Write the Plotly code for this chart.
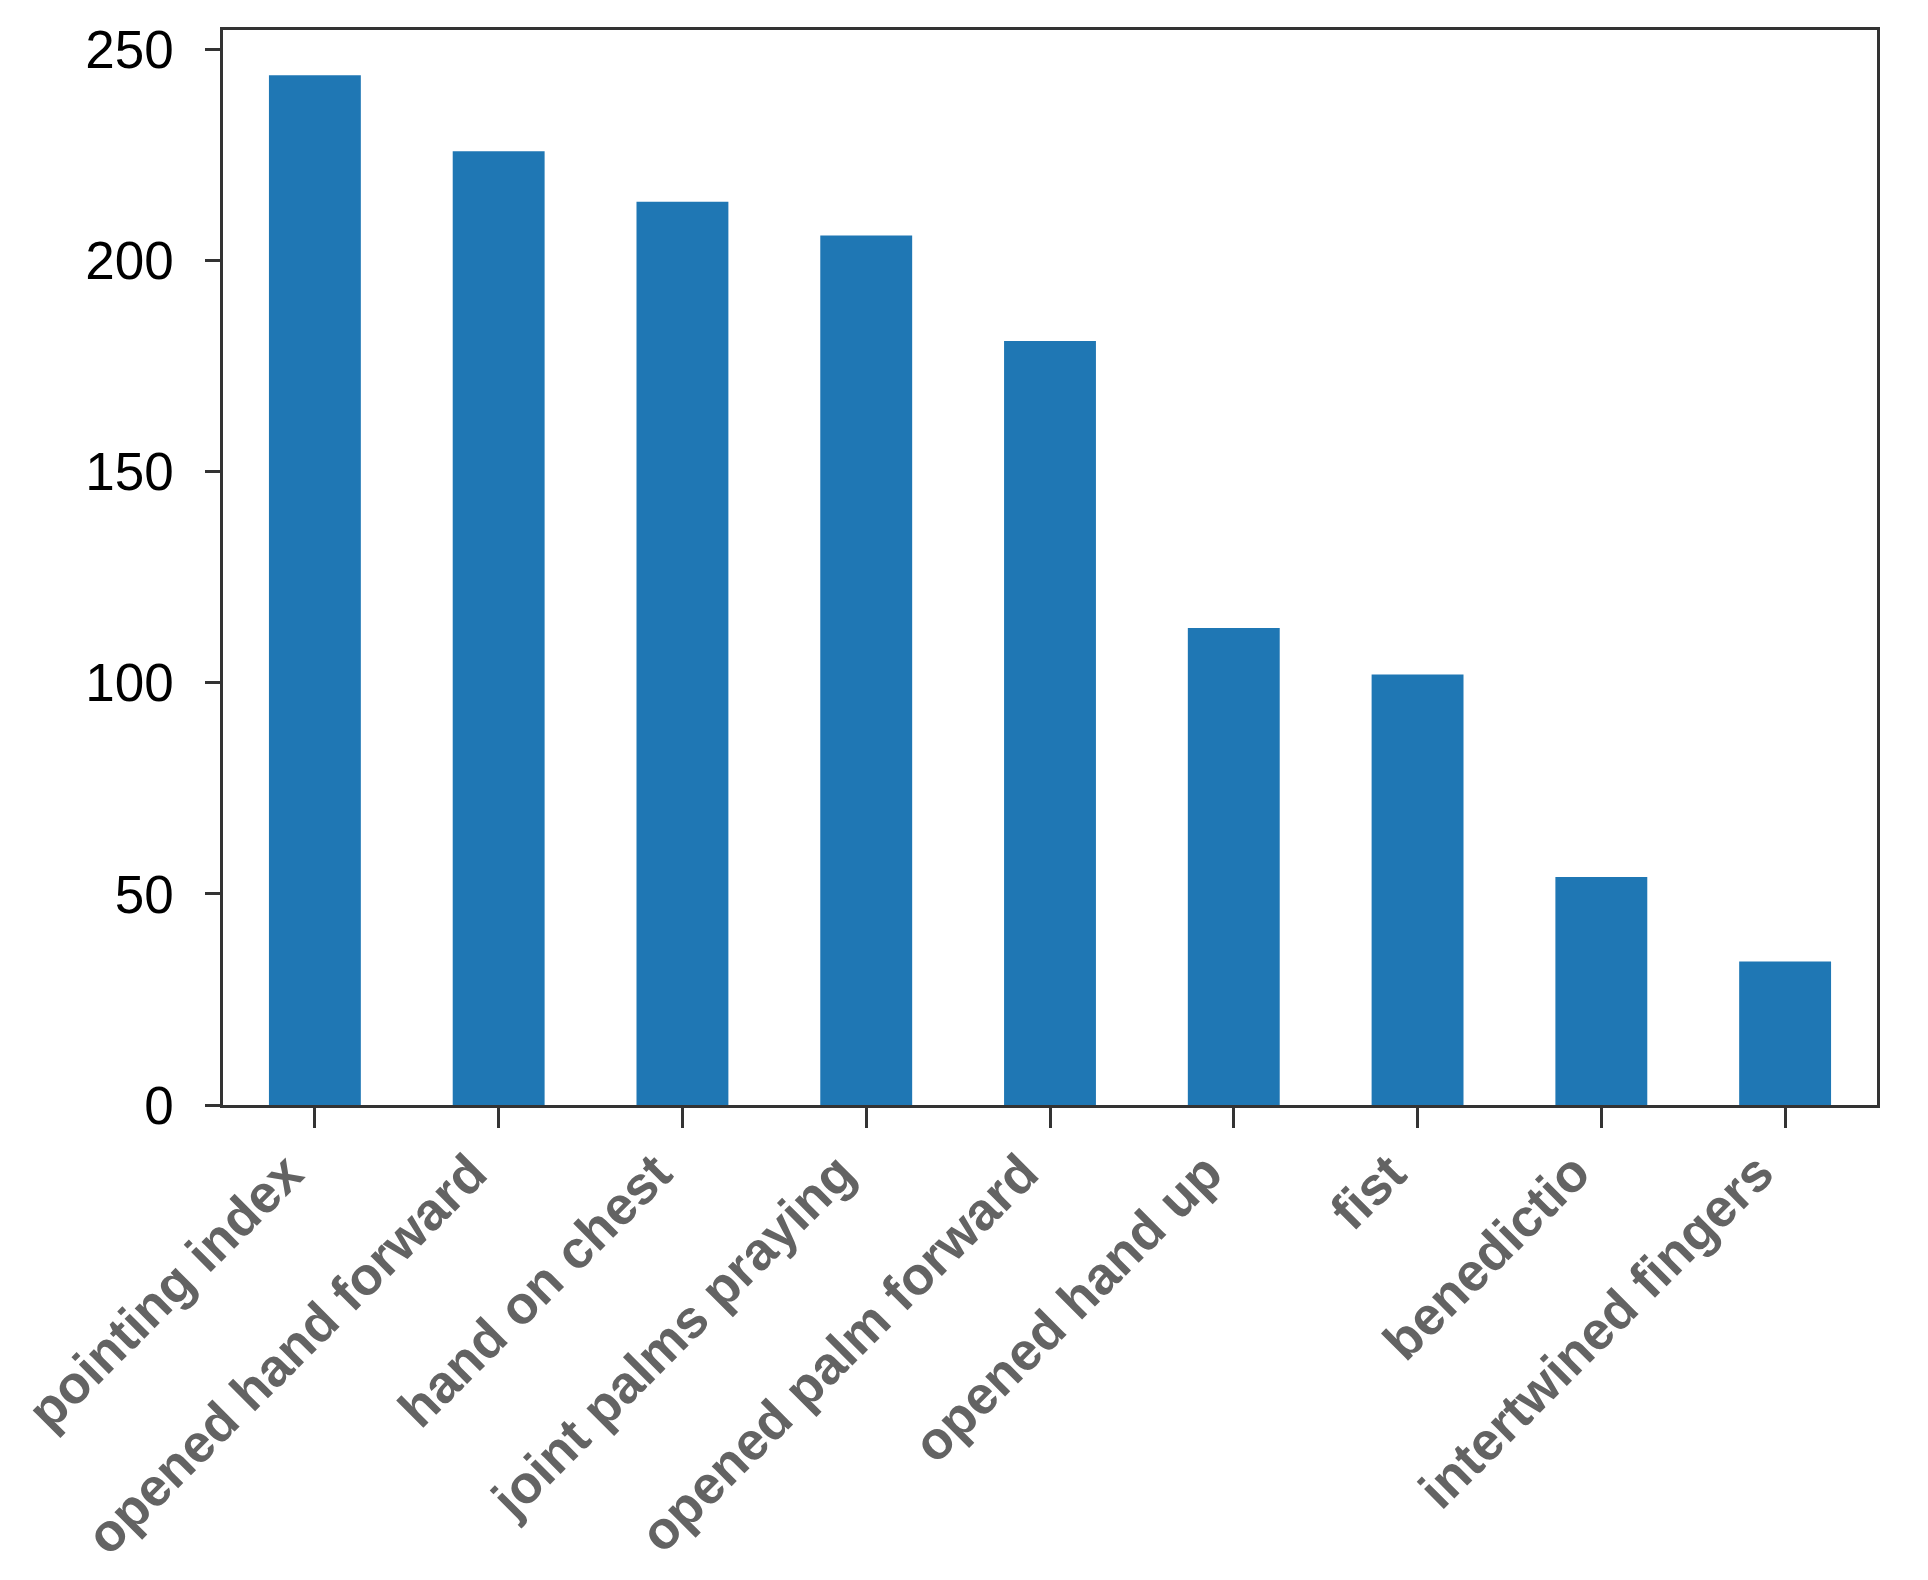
import plotly.graph_objects as go

categories = ["pointing index", "opened hand forward", "hand on chest",
              "joint palms praying", "opened palm forward", "opened hand up",
              "fist", "benedictio", "intertwined fingers"]
counts = [244, 226, 214, 206, 181, 113, 102, 54, 34]
y_ticks = [0, 50, 100, 150, 200, 250]

FONT = "Liberation Sans, Arial, sans-serif"
positions = list(range(len(categories)))

fig = go.Figure()
fig.add_trace(go.Bar(
    x=positions, y=counts, width=0.5,
    marker=dict(color="#1f77b4", line=dict(width=0)),
))

# rotated category labels, right/top aligned at each tick (matplotlib style)
for pos, label in zip(positions, categories):
    fig.add_annotation(
        x=pos, xref="x", y=0, yref="paper",
        text=label, showarrow=False, textangle=-45,
        xanchor="right", yanchor="top", borderpad=0,
        xshift=1, yshift=-36,
        font=dict(size=53, color="#636363", family=FONT, weight="bold"),
    )

# page body has an 8px margin, so the figure is sized to fit inside it
fig.update_layout(
    width=1912, height=1564,
    margin=dict(l=215, r=43, t=22, b=467),
    paper_bgcolor="white", plot_bgcolor="white",
    showlegend=False,
    font=dict(family=FONT),
)
fig.update_xaxes(
    range=[-0.5, len(categories) - 0.5],
    tickmode="array", tickvals=positions, showticklabels=False,
    ticks="outside", ticklen=20, tickwidth=2.5, tickcolor="#333333",
    showline=True, linecolor="#333333", linewidth=2.5, mirror=True,
    showgrid=False, zeroline=False, automargin=False,
)
fig.update_yaxes(
    range=[0, 254.7],
    tickmode="array", tickvals=y_ticks,
    tickfont=dict(size=53, color="black", family=FONT),
    ticks="outside", ticklen=15, tickwidth=2.5, tickcolor="#333333",
    ticklabelstandoff=21,
    showline=True, linecolor="#333333", linewidth=2.5, mirror=True,
    showgrid=False, zeroline=False, automargin=False,
)

fig.write_html("out.html")
